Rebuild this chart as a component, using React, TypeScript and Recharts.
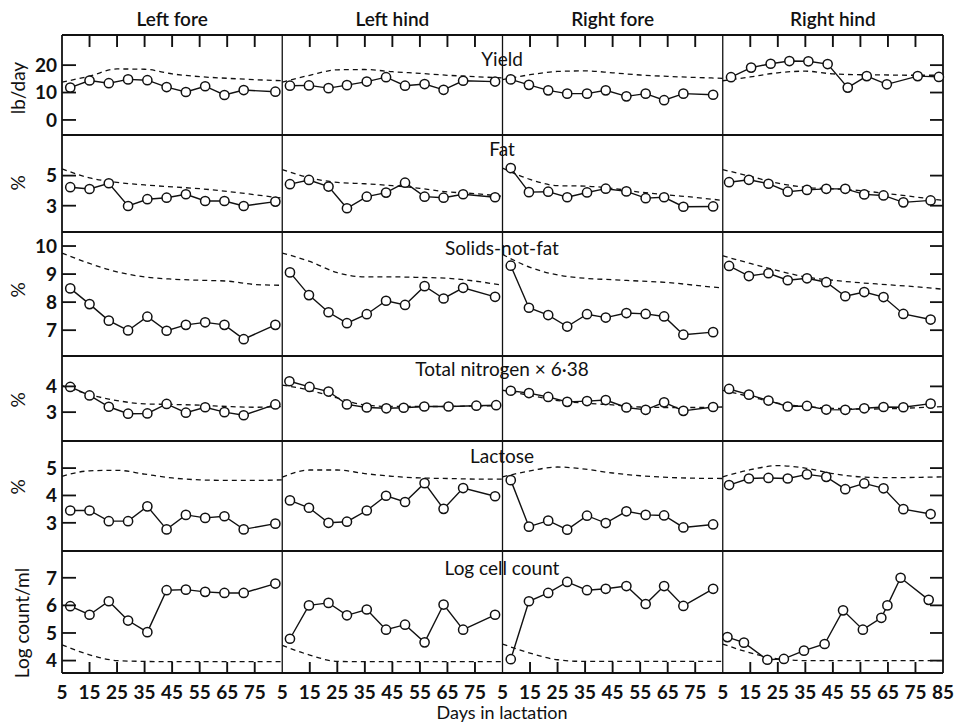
import { LineChart, Line, XAxis, YAxis, ReferenceLine } from "recharts";

const FONT = "Lato, 'Open Sans', sans-serif";

// quarters (columns) and row titles
const QUARTERS = ["Left fore", "Left hind", "Right fore", "Right hind"];
const ROW_TITLES = ["Yield", "Fat", "Solids-not-fat", "Total nitrogen \u00d7 6\u00b738", "Lactose", "Log cell count"];
const Y_TITLES = ["lb/day", "%", "%", "%", "%", "Log count/ml"];
const DAY_TICKS = [5, 15, 25, 35, 45, 55, 65, 75, 85];

// y ticks per row
const YIELD_TICKS = [0, 10, 20];
const FAT_TICKS = [3, 5];
const SNF_TICKS = [7, 8, 9, 10];
const TN_TICKS = [3, 4];
const LAC_TICKS = [3, 4, 5];
const LOG_TICKS = [4, 5, 6, 7];

// sampling days, read from the circle positions
const DAYS_LF = [8, 15, 22, 29, 36, 43, 50, 57, 64, 71, 82.5];
const DAYS_LH = [7.8, 14.7, 21.8, 28.5, 35.7, 42.7, 49.6, 56.7, 63.6, 70.7, 82.3];
const DAYS_RF = [8, 14.6, 21.6, 28.5, 35.7, 42.5, 50, 57, 63.7, 70.7, 81.5];
const DAYS_RH = [7.3, 14.5, 21.6, 28.6, 35.6, 42.6, 49.5, 56.4, 63.4, 70.6, 80.5];
const DAYS_LH_TN = [7.6, 14.9, 21.8, 28.5, 35.7, 42.8, 49.1, 56.6, 65.4, 75.5, 82.7];
const DAYS_RH_YIELD = [8, 15.3, 22.4, 29.2, 36.1, 43.1, 50.4, 57.3, 64.6, 75.8, 83.5];
const DAYS_RH_LOG = [6.7, 12.7, 21.2, 27.2, 34.5, 42, 48.7, 55.9, 62.6, 64.8, 69.6, 79.8];
// days at which the dashed (normal) curves were read
const DASH_DAYS = [5, 15, 25, 35, 45, 55, 65, 75, 85];

// yield, lb/day
const YIELD_LF = [11.8, 14.4, 13.4, 14.8, 14.5, 12.0, 10.2, 12.3, 9.1, 10.9, 10.3];
const YIELD_LH = [12.5, 12.6, 11.6, 12.7, 14.0, 15.6, 12.5, 13.1, 11.0, 14.3, 14.0];
const YIELD_RF = [14.8, 12.8, 10.8, 9.6, 9.6, 10.8, 8.6, 9.6, 7.2, 9.6, 9.2];
const YIELD_RH = [15.6, 19.1, 20.5, 21.5, 21.4, 20.4, 11.8, 16.0, 13.0, 16.0, 15.7];
const YIELD_LF_N = [13.8, 16.0, 18.6, 18.5, 16.8, 15.8, 15.2, 14.7, 14.3];
const YIELD_LH_N = [13.8, 16.3, 18.3, 18.4, 17.6, 17.0, 16.3, 15.8, 15.3];
const YIELD_RF_N = [14.7, 16.5, 17.7, 17.9, 17.2, 16.4, 15.9, 15.5, 15.2];
const YIELD_RH_N = [14.3, 15.7, 17.2, 17.8, 16.8, 16.5, 16.4, 16.3, 16.3];

// fat %
const FAT_LF = [4.23, 4.11, 4.49, 2.98, 3.43, 3.53, 3.76, 3.31, 3.31, 2.98, 3.27];
const FAT_LH = [4.43, 4.71, 4.27, 2.83, 3.6, 3.87, 4.53, 3.6, 3.53, 3.76, 3.56];
const FAT_RF = [5.5, 3.9, 3.93, 3.56, 3.88, 4.13, 3.95, 3.5, 3.56, 2.93, 2.95];
const FAT_RH = [4.56, 4.72, 4.46, 3.93, 4.05, 4.12, 4.12, 3.75, 3.68, 3.22, 3.35];
const FAT_LF_N = [5.45, 4.85, 4.55, 4.38, 4.25, 4.13, 3.95, 3.73, 3.5];
const FAT_LH_N = [5.4, 4.85, 4.55, 4.46, 4.33, 4.15, 3.92, 3.8, 3.62];
const FAT_RF_N = [5.5, 4.75, 4.33, 4.3, 4.15, 3.9, 3.72, 3.55, 3.35];
const FAT_RH_N = [5.4, 4.95, 4.5, 4.22, 4.12, 4.0, 3.8, 3.58, 3.35];

// solids-not-fat %
const SNF_LF = [8.49, 7.93, 7.34, 6.99, 7.48, 6.98, 7.19, 7.28, 7.19, 6.68, 7.19];
const SNF_LH = [9.06, 8.25, 7.64, 7.25, 7.57, 8.05, 7.9, 8.57, 8.13, 8.51, 8.19];
const SNF_RF = [9.3, 7.8, 7.54, 7.13, 7.57, 7.45, 7.61, 7.58, 7.49, 6.84, 6.93];
const SNF_RH = [9.29, 8.93, 9.03, 8.78, 8.85, 8.71, 8.21, 8.36, 8.18, 7.58, 7.38];
const SNF_LF_N = [9.75, 9.38, 9.08, 8.9, 8.82, 8.78, 8.75, 8.63, 8.6];
const SNF_LH_N = [9.75, 9.45, 9.05, 8.9, 8.9, 8.88, 8.85, 8.75, 8.6];
const SNF_RF_N = [9.7, 9.24, 8.97, 8.85, 8.8, 8.75, 8.7, 8.6, 8.5];
const SNF_RH_N = [9.65, 9.38, 9.12, 8.9, 8.78, 8.69, 8.62, 8.55, 8.46];

// total nitrogen x 6.38, %
const TN_LF = [3.98, 3.65, 3.21, 2.94, 2.95, 3.32, 2.98, 3.19, 3.0, 2.88, 3.3];
const TN_LH = [4.2, 3.98, 3.8, 3.3, 3.18, 3.15, 3.17, 3.22, 3.22, 3.25, 3.27];
const TN_RF = [3.83, 3.74, 3.59, 3.4, 3.43, 3.47, 3.18, 3.09, 3.38, 3.05, 3.2];
const TN_RH = [3.9, 3.68, 3.45, 3.22, 3.24, 3.1, 3.09, 3.15, 3.2, 3.19, 3.33];
const TN_LF_N = [4.03, 3.68, 3.45, 3.32, 3.3, 3.27, 3.22, 3.19, 3.22];
const TN_LH_N = [4.05, 3.85, 3.55, 3.28, 3.22, 3.22, 3.22, 3.24, 3.25];
const TN_RF_N = [3.85, 3.65, 3.45, 3.35, 3.28, 3.2, 3.18, 3.18, 3.2];
const TN_RH_N = [3.85, 3.6, 3.35, 3.22, 3.15, 3.12, 3.13, 3.17, 3.22];

// lactose %
const LAC_LF = [3.45, 3.45, 3.06, 3.06, 3.6, 2.76, 3.29, 3.18, 3.24, 2.76, 2.97];
const LAC_LH = [3.82, 3.55, 3.0, 3.04, 3.45, 3.99, 3.76, 4.45, 3.51, 4.27, 3.97];
const LAC_RF = [4.56, 2.86, 3.08, 2.75, 3.26, 2.99, 3.42, 3.29, 3.27, 2.83, 2.94];
const LAC_RH = [4.38, 4.62, 4.64, 4.62, 4.77, 4.68, 4.23, 4.44, 4.26, 3.5, 3.32];
const LAC_LF_N = [4.7, 4.9, 4.92, 4.78, 4.64, 4.57, 4.55, 4.55, 4.57];
const LAC_LH_N = [4.67, 4.93, 4.93, 4.8, 4.7, 4.64, 4.62, 4.6, 4.6];
const LAC_RF_N = [4.68, 4.9, 5.04, 4.96, 4.82, 4.72, 4.66, 4.63, 4.62];
const LAC_RH_N = [4.68, 4.94, 5.09, 5.0, 4.8, 4.68, 4.65, 4.66, 4.68];

// log cell count/ml
const LOG_LF = [5.97, 5.66, 6.15, 5.45, 5.03, 6.55, 6.57, 6.49, 6.45, 6.45, 6.79];
const LOG_LH = [4.79, 6.0, 6.09, 5.64, 5.85, 5.12, 5.3, 4.66, 6.03, 5.12, 5.66];
const LOG_RF = [4.05, 6.15, 6.45, 6.85, 6.55, 6.6, 6.7, 6.05, 6.7, 5.98, 6.6];
const LOG_RH = [4.85, 4.65, 4.03, 4.06, 4.36, 4.6, 5.82, 5.12, 5.55, 6.0, 7.0, 6.2];
const LOG_LF_N = [4.57, 4.21, 4.0, 3.97, 3.96, 3.96, 3.96, 3.96, 3.96];
const LOG_LH_N = [4.55, 4.2, 3.97, 3.96, 3.96, 3.96, 3.96, 3.96, 3.96];
const LOG_RF_N = [4.6, 4.27, 4.03, 3.97, 3.97, 3.97, 3.97, 3.97, 3.97];
const LOG_RH_N = [4.6, 4.28, 4.06, 4.0, 4.0, 4.0, 4.0, 4.0, 4.0];

// layout
const WIDTH = 958;
const HEIGHT = 724;
const PLOT_LEFT = 62;
const PLOT_RIGHT = 943;
const PAD = 3;
const ROW_TOPS = [35, 135, 232, 356, 441, 551];
const ROW_BOTTOMS = [135, 232, 356, 441, 551, 673];
const ROW_TITLE_Y = [58, 148, 247, 368, 455, 567];
const Y_TITLE_Y = [88, 183, 290, 400, 487, 623];
const SPAN = 80; // one quarter panel covers days 5..85
const TOP_TICK_PX = 12;
const BOTTOM_TICK_PX = 11;

const pts = (days: number[], vals: number[], col: number) =>
  days.map((d, i) => ({ day: d + SPAN * col, v: vals[i] }));

const ROWS = [
  {
    domain: [-5.5, 31], ticks: YIELD_TICKS,
    solid: [pts(DAYS_LF, YIELD_LF, 0), pts(DAYS_LH, YIELD_LH, 1), pts(DAYS_RF, YIELD_RF, 2), pts(DAYS_RH_YIELD, YIELD_RH, 3)],
    normal: [YIELD_LF_N, YIELD_LH_N, YIELD_RF_N, YIELD_RH_N],
  },
  {
    domain: [1.25, 7.7], ticks: FAT_TICKS,
    solid: [pts(DAYS_LF, FAT_LF, 0), pts(DAYS_LH, FAT_LH, 1), pts(DAYS_RF, FAT_RF, 2), pts(DAYS_RH, FAT_RH, 3)],
    normal: [FAT_LF_N, FAT_LH_N, FAT_RF_N, FAT_RH_N],
  },
  {
    domain: [6.08, 10.5], ticks: SNF_TICKS,
    solid: [pts(DAYS_LF, SNF_LF, 0), pts(DAYS_LH, SNF_LH, 1), pts(DAYS_RF, SNF_RF, 2), pts(DAYS_RH, SNF_RH, 3)],
    normal: [SNF_LF_N, SNF_LH_N, SNF_RF_N, SNF_RH_N],
  },
  {
    domain: [1.88, 5.18], ticks: TN_TICKS,
    solid: [pts(DAYS_LF, TN_LF, 0), pts(DAYS_LH_TN, TN_LH, 1), pts(DAYS_RF, TN_RF, 2), pts(DAYS_RH, TN_RH, 3)],
    normal: [TN_LF_N, TN_LH_N, TN_RF_N, TN_RH_N],
  },
  {
    domain: [1.97, 5.99], ticks: LAC_TICKS,
    solid: [pts(DAYS_LF, LAC_LF, 0), pts(DAYS_LH, LAC_LH, 1), pts(DAYS_RF, LAC_RF, 2), pts(DAYS_RH, LAC_RH, 3)],
    normal: [LAC_LF_N, LAC_LH_N, LAC_RF_N, LAC_RH_N],
  },
  {
    domain: [3.55, 7.97], ticks: LOG_TICKS,
    solid: [pts(DAYS_LF, LOG_LF, 0), pts(DAYS_LH, LOG_LH, 1), pts(DAYS_RF, LOG_RF, 2), pts(DAYS_RH_LOG, LOG_RH, 3)],
    normal: [LOG_LF_N, LOG_LH_N, LOG_RF_N, LOG_RH_N],
  },
];

// label positions: 5..75 in every quarter plus the closing 85
const X_TICKS = QUARTERS.flatMap((_, c) => DAY_TICKS.slice(0, 8).map((d) => d + SPAN * c)).concat([85 + SPAN * 3]);
// tick marks: 15..75 in every quarter (none on the panel boundaries)
const TICK_MARKS = QUARTERS.flatMap((_, c) => DAY_TICKS.slice(1, 8).map((d) => d + SPAN * c));
const BOUNDARIES = [1, 2, 3].map((c) => 5 + SPAN * c);
const dayLabel = (v: number) => (v === 85 + SPAN * 3 ? 85 : ((v - 5) % SPAN) + 5);

function LeftTick({ x, y, payload }: any) {
  return (
    <g>
      <line x1={x} x2={x + 14} y1={y} y2={y} stroke="#111" strokeWidth={1.8} />
      <text x={x - 5} y={y} dy="0.36em" textAnchor="end" fontSize={19} fontWeight={700} fontFamily={FONT} fill="#111">
        {payload.value}
      </text>
    </g>
  );
}

function RightTick({ x, y }: any) {
  return <line x1={x} x2={x - 13} y1={y} y2={y} stroke="#111" strokeWidth={1.8} />;
}

function BottomTick({ x, y, payload }: any) {
  return (
    <text x={x} y={y + 19} dy="0.36em" textAnchor="middle" fontSize={19} fontWeight={700} fontFamily={FONT} fill="#111">
      {dayLabel(payload.value)}
    </text>
  );
}

// vertical reference line cut down to a short inward tick at the top or bottom edge
const edgeTick = (where: "top" | "bottom") => (p: any) => {
  const top = Math.min(p.y1, p.y2);
  const bottom = Math.max(p.y1, p.y2);
  const y1 = where === "top" ? top : bottom;
  const y2 = where === "top" ? top + TOP_TICK_PX : bottom - BOTTOM_TICK_PX;
  return <line x1={p.x1} x2={p.x1} y1={y1} y2={y2} stroke="#111" strokeWidth={1.9} />;
};

function RowChart({ r }: { r: number }) {
  const row = ROWS[r];
  const h = ROW_BOTTOMS[r] - ROW_TOPS[r];
  const last = r === ROWS.length - 1;
  const first = r === 0;
  const [lo, hi] = row.domain;
  const border = { stroke: "#111", strokeWidth: 1.8 };
  return (
    <div style={{ position: "absolute", left: 0, top: ROW_TOPS[r] - PAD }}>
      <LineChart
        width={WIDTH}
        height={h + 2 * PAD + (last ? 50 : 0)}
        margin={{ top: PAD, right: 0, bottom: last ? PAD : PAD - 1, left: 0 }}
      >
        <XAxis
          xAxisId="b"
          type="number"
          dataKey="day"
          domain={[5, 325]}
          ticks={X_TICKS}
          interval={0}
          height={last ? 50 : 1}
          axisLine={border}
          tickLine={false}
          tickSize={0}
          tickMargin={0}
          tick={last ? <BottomTick /> : false}
        />
        <YAxis
          yAxisId="l"
          type="number"
          domain={row.domain}
          ticks={row.ticks}
          interval={0}
          width={PLOT_LEFT}
          axisLine={border}
          tickLine={false}
          tickSize={0}
          tickMargin={0}
          tick={<LeftTick />}
        />
        <YAxis
          yAxisId="r"
          orientation="right"
          type="number"
          domain={row.domain}
          ticks={row.ticks}
          interval={0}
          width={WIDTH - PLOT_RIGHT}
          axisLine={border}
          tickLine={false}
          tickSize={0}
          tickMargin={0}
          tick={<RightTick />}
        />
        {/* row borders */}
        <ReferenceLine y={lo} xAxisId="b" yAxisId="l" stroke="#111" strokeWidth={1.8} />
        <ReferenceLine y={hi} xAxisId="b" yAxisId="l" stroke="#111" strokeWidth={1.8} />
        {BOUNDARIES.map((b) => (
          <ReferenceLine key={b} x={b} xAxisId="b" yAxisId="l" stroke="#111" strokeWidth={1.3} />
        ))}
        {first &&
          TICK_MARKS.map((t) => (
            <ReferenceLine key={"tt" + t} x={t} xAxisId="b" yAxisId="l" stroke="#111" shape={edgeTick("top")} />
          ))}
        {last &&
          TICK_MARKS.map((t) => (
            <ReferenceLine key={"bt" + t} x={t} xAxisId="b" yAxisId="l" stroke="#111" shape={edgeTick("bottom")} />
          ))}
        {row.normal.map((vals, c) => (
          <Line
            key={"n" + c}
            data={pts(DASH_DAYS, vals, c)}
            xAxisId="b"
            yAxisId="r"
            dataKey="v"
            type="monotone"
            stroke="#111"
            strokeWidth={1.3}
            strokeDasharray="5 4"
            dot={false}
            isAnimationActive={false}
          />
        ))}
        {row.solid.map((data, c) => (
          <Line
            key={"s" + c}
            data={data}
            xAxisId="b"
            yAxisId="l"
            dataKey="v"
            type="linear"
            stroke="#111"
            strokeWidth={1.4}
            dot={{ r: 4.6, fill: "#fff", stroke: "#111", strokeWidth: 1.5 }}
            isAnimationActive={false}
          />
        ))}
      </LineChart>
    </div>
  );
}

const textStyle = (x: number, y: number, size: number, extra: any = {}) => ({
  position: "absolute" as const,
  left: x,
  top: y,
  transform: "translate(-50%, -50%)" + (extra.rotate ? " rotate(-90deg)" : ""),
  fontSize: size,
  fontFamily: FONT,
  color: "#111",
  whiteSpace: "nowrap" as const,
  lineHeight: 1,
  fontWeight: extra.weight || 400,
});

export default function App() {
  const colW = (PLOT_RIGHT - PLOT_LEFT) / QUARTERS.length;
  return (
    <div style={{ position: "absolute", left: 0, top: 0, width: WIDTH, height: HEIGHT, background: "#fff", overflow: "hidden" }}>
      {QUARTERS.map((q, c) => (
        <div key={q} style={textStyle(PLOT_LEFT + colW * (c + 0.5), 18, 19, { weight: 600 })}>
          {q}
        </div>
      ))}
      {ROWS.map((_, r) => (
        <RowChart key={r} r={r} />
      ))}
      {ROW_TITLES.map((t, r) => (
        <div key={t} style={textStyle(502, ROW_TITLE_Y[r], 19)}>
          {t}
        </div>
      ))}
      {Y_TITLES.map((t, r) => (
        <div key={r} style={textStyle(r === 5 ? 21 : 17, Y_TITLE_Y[r], 19, { rotate: true })}>
          {t}
        </div>
      ))}
      <div style={textStyle(502, 712, 18)}>Days in lactation</div>
    </div>
  );
}
